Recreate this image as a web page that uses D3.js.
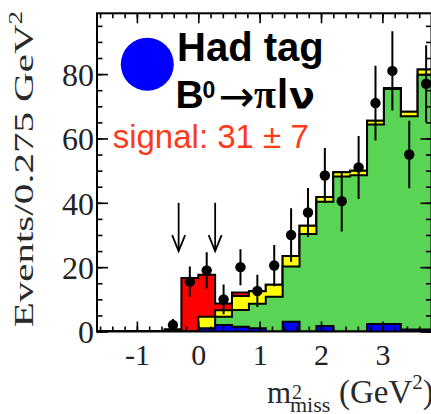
<!DOCTYPE html>
<html>
<head>
<meta charset="utf-8">
<script src="https://cdn.jsdelivr.net/npm/d3@7"></script>
<style>
  html, body { margin: 0; padding: 0; background: #fff; overflow: hidden; }
  svg { display: block; }
</style>
</head>
<body>
<svg id="chart" width="431" height="414"></svg>
<script>
// Missing-mass-squared bins (lower edges, GeV^2), bin width 0.275 GeV^2
const binEdges = [-1.65, -1.375, -1.1, -0.825, -0.55, -0.275, 0, 0.275, 0.55, 0.825,
                  1.1, 1.375, 1.65, 1.925, 2.2, 2.475, 2.75, 3.025, 3.3, 3.575];
const binWidth = 0.275;

// Stacked fit components (events per bin), bottom to top
const blueComp   = [0, 0, 0, 0, 0, 0, 0.9, 2, 1.5, 1, 0, 3, 0, 1.7, 0, 0, 2.3, 2.3, 0.6, 0.6];
const greenComp  = [0, 0, 0, 0, 0, 0, 0, 2.6, 5.2, 7.6, 10.8, 17.2, 30.3, 38.6, 48.2, 48.6, 62, 73.1, 66.3, 79.2];
const yellowComp = [0, 0, 0, 0, 0, 0, 3.7, 2, 4.3, 3.9, 3.7, 3.3, 2.6, 1.5, 1.3, 1.4, 1.2, 0.3, 1.4, 1.6];
const redComp    = [0, 0, 0, 0, 0.7, 16.6, 13, 2.1, 1.1, 0, 0, 0, 0, 0, 0, 0, 0, 0, 0, 0];

// Data points and their uncertainties
const dataCounts = [null, null, null, null, 2, 15.5, 19, 10, 20, 12.6, 20.5, 30, 37, 48.5, 40.5, 51, 71, 81, 55, 77];
const dataErrors = [0, 0, 0, 0, 1.9, 4.7, 5.6, 4.6, 5.6, 5, 6.4, 8.3, 7.6, 8.5, 9.4, 9.8, 11.6, 12.3, 10.5, 12];

// Signal-window markers
const cutValues = [-0.32, 0.275];
const cutArrowTop = 40, cutArrowTip = 25;

// Axis ticks
const xMajorTicks = [-1, 0, 1, 2, 3];
const xMinorTicks = d3.range(-16, 39, 2).map(v => v / 10);
const yMajorTicks = [0, 20, 40, 60, 80];
const yMinorTicks = d3.range(0, 100, 5);

const svg = d3.select("#chart");
const x = d3.scaleLinear().domain([-1.65, 3.8]).range([97, 431.5]);
const y = d3.scaleLinear().domain([0, 98.9]).range([331.5, 13.3]);

svg.append("defs").append("clipPath").attr("id", "plotClip")
  .append("rect").attr("x", 97).attr("y", 13.3).attr("width", 334.5).attr("height", 318.2);

const plot = svg.append("g").attr("clip-path", "url(#plotClip)");

// Stack the components
const rows = binEdges.map((e, i) => ({ edge: e, blue: blueComp[i], green: greenComp[i], yellow: yellowComp[i], red: redComp[i] }));
const keys = ["blue", "green", "yellow", "red"];
const colors = { blue: "#0000ff", green: "#59d454", yellow: "#ffff00", red: "#ff0000" };
const stacked = d3.stack().keys(keys)(rows);

function stepPoints(series) {
  const pts = [[binEdges[0], 0]];
  series.forEach((d, i) => {
    pts.push([binEdges[i], d[1]]);
    pts.push([binEdges[i] + binWidth, d[1]]);
  });
  pts.push([binEdges[binEdges.length - 1] + binWidth, 0]);
  return pts;
}
const area = d3.area().x(p => x(p[0])).y0(y(0)).y1(p => y(p[1]));
const line = d3.line().x(p => x(p[0])).y(p => y(p[1]));

// Draw cumulative histograms from the total down, each with a black outline
stacked.slice().reverse().forEach(series => {
  const pts = stepPoints(series);
  plot.append("path").attr("d", area(pts)).attr("fill", colors[series.key]);
  plot.append("path").attr("d", line(pts)).attr("fill", "none")
    .attr("stroke", "#000").attr("stroke-width", 2).attr("stroke-linejoin", "miter");
});

// Data points with error bars
const pts = binEdges.map((e, i) => ({ c: e + binWidth / 2, v: dataCounts[i], err: dataErrors[i] }))
  .filter(d => d.v !== null);
plot.append("g").selectAll("line").data(pts).join("line")
  .attr("x1", d => x(d.c)).attr("x2", d => x(d.c))
  .attr("y1", d => y(d.v + d.err)).attr("y2", d => y(d.v - d.err))
  .attr("stroke", "#000").attr("stroke-width", 2);
plot.append("g").selectAll("circle").data(pts).join("circle")
  .attr("cx", d => x(d.c)).attr("cy", d => y(d.v)).attr("r", 5.2).attr("fill", "#000");

// Cut arrows
const arrows = svg.append("g").attr("stroke", "#000").attr("stroke-width", 1.8).attr("fill", "none");
cutValues.forEach(v => {
  const cx = x(v), yt = y(cutArrowTop), yb = y(cutArrowTip);
  arrows.append("line").attr("x1", cx).attr("x2", cx).attr("y1", yt).attr("y2", yb);
  arrows.append("path").attr("d", `M${cx - 6.5},${yb - 16}L${cx},${yb}L${cx + 6.5},${yb - 16}`);
});

// Axes (ticks point into the frame)
const fmt = d => String(d);
const axes = svg.append("g");
const addAxis = (gen, tr) => {
  const g = axes.append("g").attr("transform", tr).call(gen);
  g.select(".domain").remove();
  g.selectAll(".tick line").attr("stroke", "#000").attr("stroke-width", 1.6);
  return g;
};
const xb = addAxis(d3.axisBottom(x).tickValues(xMajorTicks).tickSize(-10).tickSizeOuter(0).tickFormat(fmt), "translate(0,331.5)");
addAxis(d3.axisBottom(x).tickValues(xMinorTicks).tickSize(-5).tickSizeOuter(0).tickFormat(""), "translate(0,331.5)");
addAxis(d3.axisTop(x).tickValues(xMajorTicks).tickSize(-10).tickSizeOuter(0).tickFormat(""), "translate(0,13.3)");
addAxis(d3.axisTop(x).tickValues(xMinorTicks).tickSize(-5).tickSizeOuter(0).tickFormat(""), "translate(0,13.3)");
const yl = addAxis(d3.axisLeft(y).tickValues(yMajorTicks).tickSize(-11).tickSizeOuter(0).tickPadding(3).tickFormat(fmt), "translate(97,0)");
addAxis(d3.axisLeft(y).tickValues(yMinorTicks).tickSize(-5.5).tickSizeOuter(0).tickFormat(""), "translate(97,0)");
addAxis(d3.axisRight(y).tickValues(yMajorTicks).tickSize(-11).tickSizeOuter(0).tickFormat(""), "translate(431.5,0)");
addAxis(d3.axisRight(y).tickValues(yMinorTicks).tickSize(-5.5).tickSizeOuter(0).tickFormat(""), "translate(431.5,0)");

xb.selectAll(".tick text").attr("y", 0).attr("dy", 33.5)
  .attr("font-family", "Liberation Serif").attr("font-size", 30).attr("fill", "#222");
yl.selectAll(".tick text").attr("dy", "0.35em")
  .attr("font-family", "Liberation Serif").attr("font-size", 32).attr("fill", "#222");

// Frame
svg.append("rect").attr("x", 97).attr("y", 13.3).attr("width", 334.5).attr("height", 318.2)
  .attr("fill", "none").attr("stroke", "#000").attr("stroke-width", 2);

// Axis titles (the y title is drawn narrow-set along the axis)
const yTitle = svg.append("text").attr("transform", "translate(33,11) rotate(-90) scale(1,0.66)")
  .attr("text-anchor", "end").attr("font-family", "Liberation Serif").attr("font-size", 41).attr("fill", "#2a2a2a");
yTitle.append("tspan").text("Events/0.275 GeV");
yTitle.append("tspan").attr("font-size", 27).attr("dy", -16).text("2");

const xTitle = svg.append("g").attr("font-family", "Liberation Serif").attr("fill", "#2a2a2a");
xTitle.append("text").attr("x", 267).attr("y", 403).attr("font-size", 31).text("m");
xTitle.append("text").attr("x", 292).attr("y", 399).attr("font-size", 20).text("2");
xTitle.append("text").attr("x", 290).attr("y", 412).attr("font-size", 22).text("miss");
const gev = xTitle.append("text").attr("x", 339).attr("y", 403).attr("font-size", 33);
gev.append("tspan").text("(GeV");
gev.append("tspan").attr("font-size", 21).attr("dy", -14).text("2");
gev.append("tspan").attr("dy", 14).text(")");

// Legend / annotation
svg.append("circle").attr("cx", 147.3).attr("cy", 64.3).attr("r", 26.5).attr("fill", "#0000ff");
svg.append("text").attr("x", 177).attr("y", 61).attr("font-family", "Liberation Sans")
  .attr("font-weight", "bold").attr("font-size", 40).attr("fill", "#000").text("Had tag");
const decay = svg.append("text").attr("y", 108).attr("font-family", "Liberation Sans")
  .attr("font-weight", "bold").attr("font-size", 39).attr("fill", "#000");
decay.append("tspan").attr("x", 175.5).text("B");
decay.append("tspan").attr("x", 202.5).attr("y", 98).attr("font-size", 23).text("0");
decay.append("tspan").attr("x", 218.5).attr("y", 111).attr("font-family", "DejaVu Sans")
  .attr("font-weight", "normal").attr("font-size", 43).text("\u2192");
decay.append("tspan").attr("x", 254).attr("y", 108).attr("font-family", "Liberation Serif").attr("font-size", 40).text("\u03c0");
decay.append("tspan").attr("x", 277).attr("font-size", 40).text("l");
decay.append("tspan").attr("x", 289).attr("font-family", "DejaVu Sans").attr("font-size", 38).text("\u03bd");

svg.append("text").attr("x", 112.7).attr("y", 148.3).attr("font-family", "Liberation Sans")
  .attr("font-size", 33).attr("fill", "#ff3a1a").text("signal: 31 \u00b1 7");
</script>
</body>
</html>
